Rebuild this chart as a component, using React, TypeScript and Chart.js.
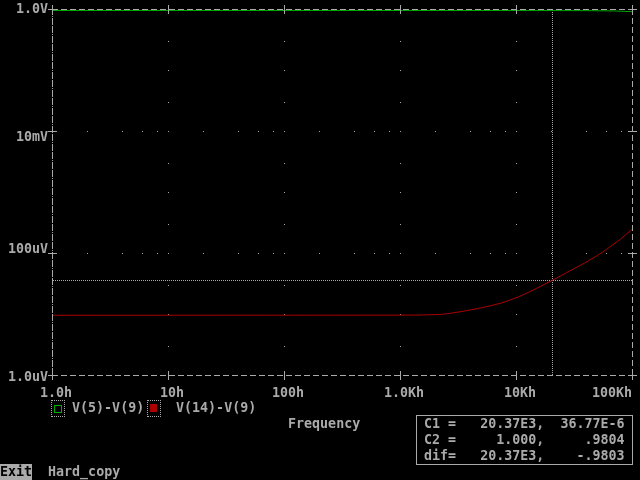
import React, { useEffect, useRef } from "react";
import { Chart, registerables } from "chart.js";

Chart.register(...registerables);

// ---- data ----
const freqV5 = [1, 10, 100, 1000, 10000, 40000, 70000, 100000];
const valV5 = [0.9804, 0.9804, 0.9804, 0.9804, 0.98, 0.976, 0.965, 0.94];

const freqV14 = [1, 1000, 1500, 2213, 2645, 3491, 4613, 5966, 7727, 10000, 10820, 13200, 15850, 20370, 23950, 28070, 40930, 50100, 60500, 79400, 100000];
const valV14 = [9.9e-6, 9.95e-6, 1.0e-5, 1.02e-5, 1.06e-5, 1.15e-5, 1.27e-5, 1.41e-5, 1.6e-5, 1.92e-5, 2.03e-5, 2.42e-5, 2.88e-5, 3.677e-5, 4.32e-5, 5.08e-5, 7.48e-5, 9.42e-5, 1.194e-4, 1.746e-4, 2.54e-4];

const xTickValues = [1, 10, 100, 1000, 10000, 100000];
const xTickLabels = ["1.0h", "10h", "100h", "1.0Kh", "10Kh", "100Kh"];
const yTickValues = [1, 1e-2, 1e-4, 1e-6];
const yTickLabels = ["1.0V", "10mV", "100uV", "1.0uV"];
const xMinorSteps = [2, 4, 6, 8, 10];
const yMinorSteps = [1, 3];

const seriesNames = ["V(5)-V(9)", "V(14)-V(9)"];
const cursor1 = [20.37e3, 36.77e-6];
const cursor2 = [1.0, 0.9804];
const cursorRows = [
  "C1 =   20.37E3,  36.77E-6",
  "C2 =     1.000,     .9804",
  "dif=   20.37E3,    -.9803",
];
const axisTitle = "Frequency";
const menuItems = ["Exit", "Hard_copy"];

// ---- styles ----
const GRAY = "#aaaaaa";
const GREEN = "#00aa00";
const RED = "#aa0000";
const CANVAS_FONT = 'bold 13.33px "DejaVu Sans Mono", "Liberation Mono", monospace';

const pspicePlugin = {
  id: "pspice",
  beforeDatasetsDraw(chart: any) {
    const { ctx } = chart;
    const x = chart.scales.x;
    const y = chart.scales.y;
    const colOf = (v: number) => Math.round(x.getPixelForValue(v));
    const rowOf = (v: number) => Math.floor(y.getPixelForValue(v) - 0.5 + 1e-6);
    ctx.save();
    ctx.fillStyle = GRAY;
    for (const xv of xTickValues.slice(1, -1)) {
      const c = colOf(xv);
      for (let e = -6; e <= 0; e++) {
        for (const m of yMinorSteps) {
          const v = m * Math.pow(10, e);
          if (v <= 1e-6 * 1.0001 || v >= 0.9999) continue;
          ctx.fillRect(c, rowOf(v), 1, 1);
        }
      }
    }
    for (const yv of yTickValues) {
      if (yv >= 0.9999 || yv <= 1.0001e-6) continue;
      const r = rowOf(yv);
      for (let e = 0; e < 5; e++) {
        for (const m of xMinorSteps) {
          const v = m * Math.pow(10, e);
          if (v >= 0.9999e5) continue;
          ctx.fillRect(colOf(v), r, 1, 1);
        }
      }
    }
    ctx.strokeStyle = GRAY;
    ctx.lineWidth = 1;
    ctx.setLineDash([1, 1]);
    const L = colOf(1), R = colOf(1e5), T = rowOf(1), B = rowOf(1e-6);
    const cc = colOf(cursor1[0]);
    const cr = rowOf(cursor1[1]);
    ctx.beginPath();
    ctx.moveTo(cc + 0.5, T + 1);
    ctx.lineTo(cc + 0.5, B);
    ctx.moveTo(L + 1, cr + 0.5);
    ctx.lineTo(R, cr + 0.5);
    ctx.stroke();
    ctx.restore();
  },
  afterDatasetsDraw(chart: any) {
    const { ctx } = chart;
    const x = chart.scales.x;
    const y = chart.scales.y;
    const colOf = (v: number) => Math.round(x.getPixelForValue(v));
    const rowOf = (v: number) => Math.floor(y.getPixelForValue(v) - 0.5 + 1e-6);
    const L = colOf(1), R = colOf(1e5), T = rowOf(1), B = rowOf(1e-6);
    ctx.save();
    ctx.strokeStyle = GRAY;
    ctx.lineWidth = 1;
    ctx.setLineDash([6, 3]);
    ctx.beginPath();
    ctx.moveTo(L, T + 0.5); ctx.lineTo(R + 1, T + 0.5);
    ctx.moveTo(L, B + 0.5); ctx.lineTo(R + 1, B + 0.5);
    ctx.moveTo(L + 0.5, T); ctx.lineTo(L + 0.5, B + 1);
    ctx.moveTo(R + 0.5, T); ctx.lineTo(R + 0.5, B + 1);
    ctx.stroke();
    ctx.setLineDash([1, 1]);
    const c2 = colOf(cursor2[0]);
    ctx.beginPath();
    ctx.moveTo(c2 + 0.5, T + 1);
    ctx.lineTo(c2 + 0.5, B);
    ctx.stroke();
    ctx.setLineDash([]);
    ctx.beginPath();
    for (const v of yTickValues) {
      const r = rowOf(v);
      ctx.moveTo(L - 4, r + 0.5); ctx.lineTo(L + 5, r + 0.5);
      ctx.moveTo(R - 4, r + 0.5); ctx.lineTo(R + 5, r + 0.5);
    }
    for (const v of xTickValues) {
      const c = colOf(v);
      ctx.moveTo(c + 0.5, B - 4); ctx.lineTo(c + 0.5, B + 5);
      ctx.moveTo(c + 0.5, T - 4); ctx.lineTo(c + 0.5, T + 5);
    }
    ctx.stroke();
    ctx.font = CANVAS_FONT;
    ctx.fillStyle = GRAY;
    ctx.textBaseline = "alphabetic";
    ctx.textAlign = "right";
    yTickValues.forEach((v, i) => {
      const cellTop = Math.floor(rowOf(v) / 16) * 16;
      ctx.fillText(yTickLabels[i], L - 4, cellTop + 13);
    });
    ctx.textAlign = "left";
    const xCellTop = (Math.floor(B / 16) + 1) * 16;
    xTickValues.forEach((v, i) => {
      const label = xTickLabels[i];
      const c = colOf(v);
      let start = Math.floor((c - label.length * 4 + 4) / 8) * 8;
      start = Math.min(start, R - label.length * 8);
      ctx.fillText(label, start, xCellTop + 13);
    });
    ctx.restore();
  },
};

const textStyle: React.CSSProperties = {
  position: "absolute",
  fontFamily: '"DejaVu Sans Mono", "Liberation Mono", monospace',
  fontWeight: "bold",
  fontSize: "13.33px",
  lineHeight: "16px",
  color: GRAY,
  whiteSpace: "pre",
  margin: 0,
};

export default function App() {
  const ref = useRef<HTMLCanvasElement>(null);
  useEffect(() => {
    document.body.style.margin = "0";
    document.body.style.background = "#000";
    const chart = new Chart(ref.current as HTMLCanvasElement, {
      type: "line",
      data: {
        datasets: [
          {
            label: seriesNames[0],
            data: freqV5.map((f, i) => ({ x: f, y: valV5[i] })),
            borderColor: GREEN,
            borderWidth: 1,
            pointRadius: 0,
            tension: 0,
            clip: false as any,
          },
          {
            label: seriesNames[1],
            data: freqV14.map((f, i) => ({ x: f, y: valV14[i] })),
            borderColor: RED,
            borderWidth: 1,
            pointRadius: 0,
            tension: 0,
            clip: false as any,
          },
        ],
      },
      options: {
        animation: false,
        responsive: false,
        maintainAspectRatio: false,
        events: [],
        layout: { padding: { left: 52, top: 10, right: 8, bottom: 104 } },
        scales: {
          x: { type: "logarithmic", min: 1, max: 1e5, display: false },
          y: { type: "logarithmic", min: 1e-6, max: 1, display: false },
        },
        plugins: { legend: { display: false }, tooltip: { enabled: false } },
      },
      plugins: [pspicePlugin],
    } as any);
    return () => chart.destroy();
  }, []);

  return (
    <div style={{ position: "absolute", left: 0, top: 0, width: 640, height: 480, background: "#000", overflow: "hidden" }}>
      <canvas ref={ref} width={640} height={480} style={{ position: "absolute", left: 0, top: 0, width: 640, height: 480 }} />
      <div style={{ position: "absolute", left: 51, top: 400, width: 14, height: 17, boxSizing: "border-box", border: `1px dotted ${GRAY}` }} />
      <div style={{ position: "absolute", left: 54, top: 405, width: 8, height: 8, boxSizing: "border-box", border: `1px solid ${GREEN}` }} />
      <div style={{ ...textStyle, left: 72, top: 400 }}>{seriesNames[0]}</div>
      <div style={{ position: "absolute", left: 147, top: 400, width: 14, height: 17, boxSizing: "border-box", border: `1px dotted ${GRAY}` }} />
      <div style={{ position: "absolute", left: 150, top: 404, width: 7, height: 8, background: RED }} />
      <div style={{ ...textStyle, left: 176, top: 400 }}>{seriesNames[1]}</div>
      <div style={{ ...textStyle, left: 288, top: 416 }}>{axisTitle}</div>
      <div style={{ position: "absolute", left: 416, top: 415, width: 217, height: 50, boxSizing: "border-box", border: `1px solid ${GRAY}` }} />
      {cursorRows.map((row, i) => (
        <div key={i} style={{ ...textStyle, left: 424, top: 416 + i * 16 }}>{row}</div>
      ))}
      <div style={{ ...textStyle, left: 0, top: 464, width: 32, height: 16, background: GRAY, color: "#000" }}>{menuItems[0]}</div>
      <div style={{ ...textStyle, left: 48, top: 464 }}>{menuItems[1]}</div>
    </div>
  );
}
